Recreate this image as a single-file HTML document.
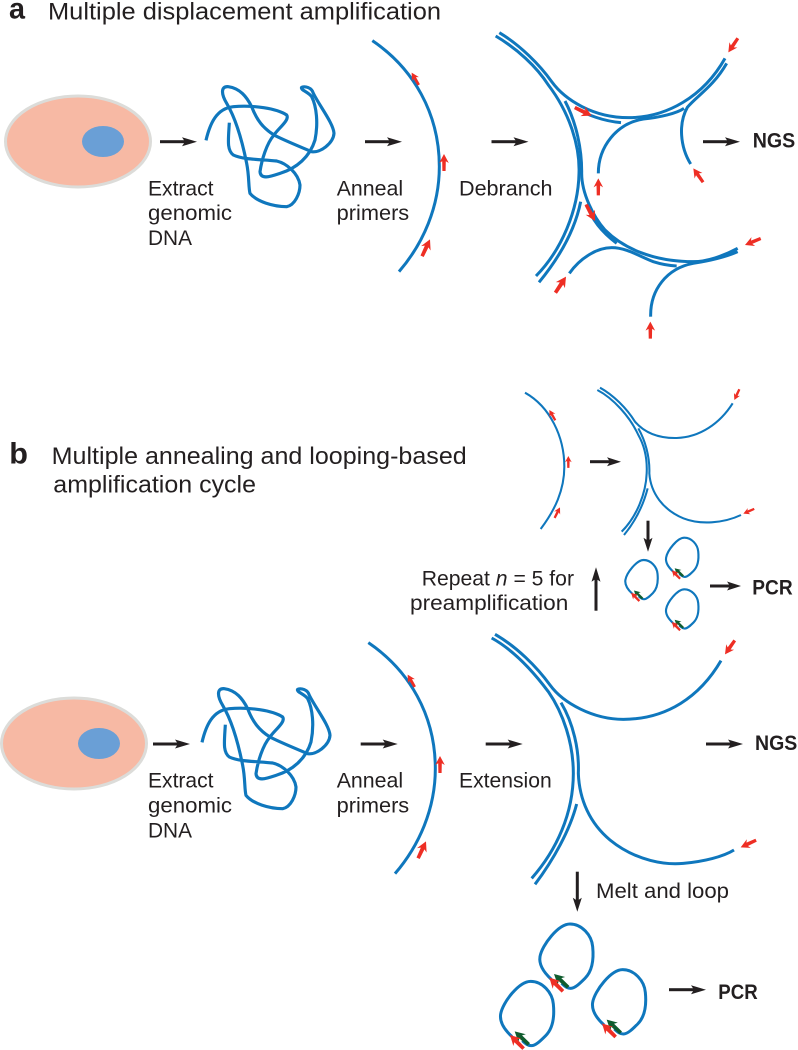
<!DOCTYPE html>
<html lang="en">
<head>
<meta charset="utf-8">
<title>MDA and MALBAC diagram</title>
<style>
html,body{margin:0;padding:0;background:#fff}
svg{display:block}
text{font-family:"Liberation Sans",Arial,sans-serif;fill:#231f20;font-size:21.5px}
.t{font-size:24.5px}
.h{font-size:30px;font-weight:bold}
.b{font-size:21px;font-weight:bold}
.s{fill:none;stroke:#0f77bd;stroke-linecap:butt;stroke-linejoin:round}
</style>
</head>
<body>
<svg xmlns="http://www.w3.org/2000/svg" width="798" height="1050" viewBox="0 0 798 1050">
<defs>
  <!-- red primer arrow: tip at origin, pointing up, 17 long -->
  <polygon id="ra" points="0,0 4.8,9 1.8,7.2 1.6,17 -1.6,17 -1.8,7.2 -4.8,9" fill="#ee2e24"/>
  <polygon id="ga" points="0,0 4.8,9 1.8,7.2 1.6,17 -1.6,17 -1.8,7.2 -4.8,9" fill="#0f5c2e"/>
  <!-- black arrow: starts at origin, length 37, pointing right -->
  <g id="ar" fill="#231f20">
    <rect x="0" y="-1.5" width="28" height="3"/>
    <polygon points="37,0 22,-4.5 25,0 22,4.5"/>
  </g>
  <g id="ars" fill="#231f20">
    <rect x="0" y="-1.5" width="22" height="3"/>
    <polygon points="31,0 17,-4.5 20,0 17,4.5"/>
  </g>

  <g id="left">
    <ellipse cx="78" cy="141.5" rx="72.5" ry="45.5" fill="#f7b9a4" stroke="#dcdcd9" stroke-width="3"/>
    <ellipse cx="103" cy="141.5" rx="21" ry="15.5" fill="#6a9fd6"/>
    <g transform="scale(.33333)">
      <path class="s" stroke-width="9.5" d="M618,421 C630,370 650,325 700,320 C760,315 830,325 860,345 C870,360 835,385 822,405 C800,430 785,480 780,515 C782,540 810,530 840,520 C890,505 930,470 945,420 C955,370 950,320 935,290 C925,275 900,270 905,262 C915,258 935,262 940,280 C960,320 1000,370 1002,400 C1000,430 960,460 935,455 C900,440 850,420 822,405 C790,385 770,360 755,320 C740,290 720,265 685,260 C660,258 665,285 680,310 C710,360 730,440 740,490 C748,530 745,560 750,580 C770,605 820,620 860,620 C885,615 900,580 900,555 C895,520 860,490 830,483 C790,478 730,480 700,465 C680,450 685,420 688,368"/>
      <path class="s" stroke-width="9" d="M1117,122 C1240,205 1318,340 1318,500 C1318,620 1270,730 1197,815"/>
      <use href="#ra" transform="translate(1235,218) rotate(-30) scale(2.5)"/>
      <use href="#ra" transform="translate(1332,462) scale(3)"/>
      <use href="#ra" transform="translate(1290,718) rotate(25) scale(3.3)"/>
    </g>
  </g>

  <g id="loop">
    <path class="s" d="M214,238 C192,218 176,195 180,170 C186,135 235,72 270,72 C305,72 335,105 338,140 C342,180 335,215 315,235 C300,250 285,265 272,265 C262,265 255,260 245,250"/>
    <use href="#ga" transform="translate(222,222) rotate(-47) scale(3.4)"/>
    <use href="#ra" transform="translate(208,233) rotate(-45) scale(3.4)"/>
  </g>
</defs>

<!-- PANEL A -->
<text class="h" x="9" y="18.5" textLength="16" lengthAdjust="spacingAndGlyphs">a</text>
<text class="t" x="48" y="19.5" textLength="393" lengthAdjust="spacingAndGlyphs">Multiple displacement amplification</text>

<use href="#left"/>

<use href="#ar" transform="translate(160,141.7)"/>
<use href="#ar" transform="translate(365,141.7)"/>
<use href="#ar" transform="translate(491.5,141.7)"/>
<use href="#ar" transform="translate(703,141.7)"/>

<text x="148" y="195.7" textLength="65.5" lengthAdjust="spacingAndGlyphs">Extract</text>
<text x="148" y="220" textLength="84" lengthAdjust="spacingAndGlyphs">genomic</text>
<text x="148" y="245" textLength="44" lengthAdjust="spacingAndGlyphs">DNA</text>
<text x="336.7" y="195.7" textLength="66.5" lengthAdjust="spacingAndGlyphs">Anneal</text>
<text x="336.7" y="220" textLength="72.5" lengthAdjust="spacingAndGlyphs">primers</text>
<text x="459" y="195.7" textLength="93.5" lengthAdjust="spacingAndGlyphs">Debranch</text>
<text class="b" x="752.7" y="147.7" textLength="42.5" lengthAdjust="spacingAndGlyphs">NGS</text>

<g transform="translate(480,20) scale(.33333)">
  <g class="s" stroke-width="9">
    <path d="M58,38 C120,75 180,135 215,185 C255,240 340,293 445,293 C560,293 670,230 735,115"/>
    <path d="M47,48 C110,85 170,140 205,195 C270,280 300,380 297,460 C295,570 245,690 168,768"/>
    <path d="M255,243 C290,310 306,390 305,460 C305,520 340,590 375,630 C430,685 520,725 640,725 C680,725 730,708 773,685"/>
    <path d="M302,545 C285,630 240,710 177,787"/>
    <path d="M285,262 C320,285 370,303 423,308"/>
    <path d="M355,460 C355,380 410,310 490,297 C540,292 590,280 612,265"/>
    <path d="M632,432 C600,380 595,310 622,262 C650,228 700,200 740,130"/>
    <path d="M320,553 C335,600 370,640 410,670"/>
    <path d="M268,760 C300,715 350,683 395,683 C440,683 480,710 520,725 C545,733 570,737 590,738"/>
    <path d="M512,890 C510,810 560,745 640,730 C690,722 735,712 773,695"/>
  </g>
  <use href="#ra" transform="translate(745,97) rotate(214) scale(3)"/>
  <use href="#ra" transform="translate(335,287) rotate(115.7) scale(3.3)"/>
  <use href="#ra" transform="translate(355,475) scale(3)"/>
  <use href="#ra" transform="translate(640,445) rotate(-35) scale(3)"/>
  <use href="#ra" transform="translate(345,603) rotate(151.6) scale(3.3)"/>
  <use href="#ra" transform="translate(795,675) rotate(-112.6) scale(3)"/>
  <use href="#ra" transform="translate(258,770) rotate(33.4) scale(3.4)"/>
  <use href="#ra" transform="translate(511,905) scale(3)"/>
</g>

<!-- PANEL B -->
<text class="h" x="9.3" y="463.5" textLength="18.7" lengthAdjust="spacingAndGlyphs">b</text>
<text class="t" x="51.7" y="464" textLength="415" lengthAdjust="spacingAndGlyphs">Multiple annealing and looping-based</text>
<text class="t" x="53.3" y="492.3" textLength="202.7" lengthAdjust="spacingAndGlyphs">amplification cycle</text>

<g transform="translate(400,360) scale(.33333)">
  <g class="s" stroke-width="6.2">
    <path d="M375,98 C450,140 493,230 493,320 C493,390 465,450 422,507"/>
    <path d="M600,83 C640,105 680,145 705,185 C735,220 780,235 830,234 C900,232 960,190 998,130"/>
    <path d="M592,90 C640,115 690,170 715,225 C735,260 742,300 740,340 C738,400 710,470 665,515"/>
    <path d="M715,205 C735,240 750,290 748,340 C752,400 790,450 850,475 C900,495 970,490 1023,465"/>
    <path d="M743,385 C730,435 705,485 672,525"/>
  </g>
  <use href="#ra" transform="translate(448,150) rotate(-30) scale(2.1)"/>
  <use href="#ra" transform="translate(505,288) scale(2.1)"/>
  <use href="#ra" transform="translate(480,442) rotate(27) scale(2.1)"/>
  <use href="#ra" transform="translate(1003,120) rotate(205) scale(2.1)"/>
  <use href="#ra" transform="translate(1030,461) rotate(-113.6) scale(2.1)"/>
</g>

<use href="#ars" transform="translate(590,461.7)"/>
<use href="#ars" transform="translate(648,520.7) rotate(90)"/>
<g transform="translate(596,610.7) rotate(-90)">
  <rect x="0" y="-1.5" width="34" height="3" fill="#231f20"/>
  <polygon points="43.4,0 29,-4.5 32,0 29,4.5" fill="#231f20"/>
</g>
<use href="#ars" transform="translate(710,586)"/>

<text x="421.7" y="585.7" textLength="152.3" lengthAdjust="spacingAndGlyphs">Repeat <tspan font-style="italic">n</tspan> = 5 for</text>
<text x="410" y="610" textLength="158.3" lengthAdjust="spacingAndGlyphs">preamplification</text>
<text class="b" x="752.3" y="594.3" textLength="40.4" lengthAdjust="spacingAndGlyphs">PCR</text>

<!-- small loops -->
<g stroke-width="10.5">
  <use href="#loop" transform="translate(625,560) scale(.2033) translate(-178,-72)"/>
  <use href="#loop" transform="translate(665.7,537.7) scale(.2033) translate(-178,-72)"/>
  <use href="#loop" transform="translate(665.7,589.3) scale(.2033) translate(-178,-72)"/>
</g>

<!-- lower row -->
<use href="#left" transform="translate(-4,602)"/>

<use href="#ar" transform="translate(153,744)"/>
<use href="#ar" transform="translate(360.7,744)"/>
<use href="#ar" transform="translate(485.7,744)"/>
<use href="#ar" transform="translate(706,744)"/>
<g transform="translate(577.3,871.7) rotate(90)">
  <rect x="0" y="-1.5" width="31" height="3" fill="#231f20"/>
  <polygon points="40,0 26,-4.5 29,0 26,4.5" fill="#231f20"/>
</g>
<use href="#ar" transform="translate(669,989.7)"/>

<text x="148" y="787.7" textLength="65.5" lengthAdjust="spacingAndGlyphs">Extract</text>
<text x="148" y="812.7" textLength="84" lengthAdjust="spacingAndGlyphs">genomic</text>
<text x="148" y="837.7" textLength="44" lengthAdjust="spacingAndGlyphs">DNA</text>
<text x="336.7" y="787.7" textLength="66.5" lengthAdjust="spacingAndGlyphs">Anneal</text>
<text x="336.7" y="812.7" textLength="72.5" lengthAdjust="spacingAndGlyphs">primers</text>
<text x="459" y="787.7" textLength="92.7" lengthAdjust="spacingAndGlyphs">Extension</text>
<text class="b" x="755" y="750" textLength="42.3" lengthAdjust="spacingAndGlyphs">NGS</text>
<text x="596" y="898" textLength="133" lengthAdjust="spacingAndGlyphs">Melt and loop</text>
<text class="b" x="718.3" y="999" textLength="39.4" lengthAdjust="spacingAndGlyphs">PCR</text>

<g transform="translate(460,630) scale(.33333)">
  <g class="s" stroke-width="9">
    <path d="M105,13 C170,50 230,110 270,165 C310,220 400,268 490,268 C620,268 720,200 783,92"/>
    <path d="M95,24 C160,60 220,125 265,185 C310,250 340,340 340,430 C340,550 290,660 215,745"/>
    <path d="M303,218 C340,280 358,360 355,430 C358,510 390,580 450,630 C530,695 620,705 670,700 C730,695 790,680 822,660"/>
    <path d="M350,522 C330,600 280,690 225,763"/>
  </g>
  <use href="#ra" transform="translate(795,73) rotate(-145) scale(3)"/>
  <use href="#ra" transform="translate(842,652) rotate(-114.7) scale(3)"/>
</g>

<!-- large loops -->
<g transform="translate(480,900) scale(.33333)" stroke-width="9">
  <use href="#loop"/>
  <use href="#loop" transform="translate(-118,172)"/>
  <use href="#loop" transform="translate(158,137)"/>
</g>
</svg>
</body>
</html>
